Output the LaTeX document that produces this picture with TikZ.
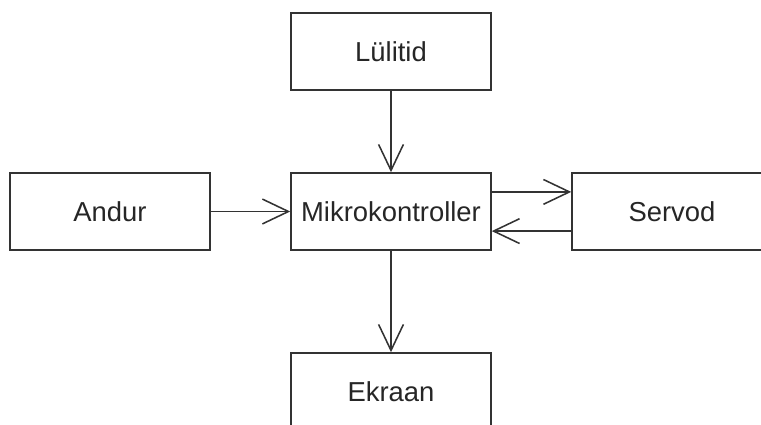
\documentclass[tikz,border=0pt]{standalone}
\usepackage{fontspec}
\setmainfont{Liberation Sans}
\usetikzlibrary{arrows.meta,positioning}

\begin{document}
\begin{tikzpicture}[node distance=4cm, auto, >={Straight Barb[length=6.5mm, width=6.2mm]}, line width=1.1pt,
        block/.style={rectangle, draw=black!80, text=black!85, minimum width=5cm, minimum height=1.925cm, font=\fontsize{19.5}{23}\selectfont}]
        \useasboundingbox (0,0) rectangle (19.025,-10.625);
        \clip (0,0) rectangle (19.025,-10.625);
        % Nodes
        \node[block] (mikro) at (9.775,-5.2875) {Mikrokontroller};
        \node[block, above of=mikro] (lulitid) {Lülitid};
        \node[block, left of=mikro, node distance=7.025cm] (andur) {Andur};
        \node[block, right of=mikro, node distance=7.025cm] (servod) {Servod};
        \node[block, below of=mikro, node distance=4.5cm] (ekraan) {Ekraan};

        % Arrows
        \draw[->, black!80] (lulitid) -- (mikro);
        \draw[->, black!80] (andur) -- (mikro);
        \draw[->, black!80] (mikro) -- (ekraan);

        % Mikrokontroller <-> Servod
        \draw[->, black!80] ([yshift=4.9mm]mikro.east) -- ([yshift=4.9mm]servod.west);
        \draw[->, black!80] ([yshift=-4.9mm]servod.west) -- ([yshift=-4.9mm]mikro.east);
    \end{tikzpicture}
\end{document}
